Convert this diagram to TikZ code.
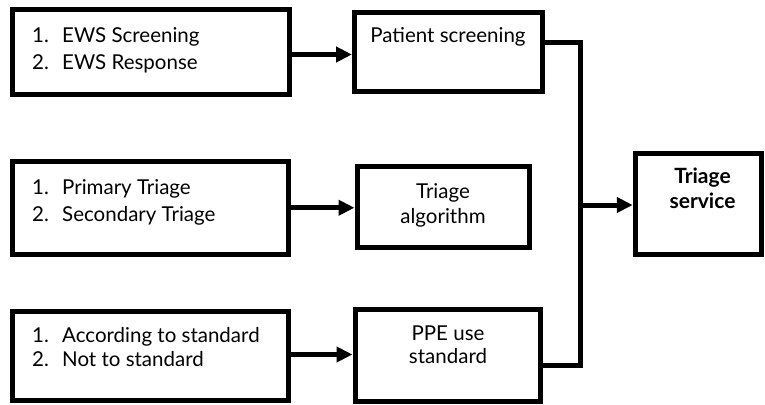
\documentclass[tikz,border=0pt]{standalone}
\usepackage{fontspec}
\setmainfont{Lato}
\usetikzlibrary{arrows.meta,calc}
\begin{document}
\begin{tikzpicture}[x=1pt,y=-1pt,
  box/.style={draw=black,line width=5pt,rectangle,inner sep=0pt,line join=miter},
  txt/.style={inner sep=0pt,font=\fontsize{20.5}{24}\selectfont},
  btxt/.style={inner sep=0pt,font=\fontsize{21}{24}\selectfont\bfseries},
  conn/.style={line width=5pt,line join=miter},
  arr/.style={line width=5pt,-{Triangle[length=16pt,width=15pt]}}]
\useasboundingbox (0,0) rectangle (765,404);
% boxes
\node[box,minimum width=277pt,minimum height=84pt] (A) at (150.5,52) {};
\node[box,minimum width=187.5pt,minimum height=78pt] (P) at (448.25,52) {};
\node[box,minimum width=276pt,minimum height=93.5pt] (B) at (150,207.75) {};
\node[box,minimum width=172.5pt,minimum height=81pt] (T) at (443.25,206.5) {};
\node[box,minimum width=126.5pt,minimum height=101.5pt] (S) at (698.5,203.75) {};
\node[box,minimum width=276pt,minimum height=89pt] (C) at (150,355.5) {};
\node[box,minimum width=185pt,minimum height=91.5pt] (Q) at (447.5,355.25) {};
% texts
\node[txt,anchor=base west] (a1) at (32,43) {\makebox[30pt][l]{1.}EWS Screening};
\node[txt,anchor=base west] (a2) at (32,69.5) {\makebox[30pt][l]{2.}EWS Response};
\node[txt,anchor=base west] (b1) at (32,194) {\makebox[30pt][l]{1.}Primary Triage};
\node[txt,anchor=base west] (b2) at (32,221) {\makebox[30pt][l]{2.}Secondary Triage};
\node[txt,anchor=base west] (c1) at (32,342) {\makebox[30pt][l]{1.}According to standard};
\node[txt,anchor=base west] (c2) at (32,366.5) {\makebox[30pt][l]{2.}Not to standard};
\node[txt,anchor=base] (p1) at (448,43) {Patient screening};
\node[txt,anchor=base] (t1) at (443,198) {Triage};
\node[txt,anchor=base] (t2) at (443,223) {algorithm};
\node[btxt,anchor=base] (s1) at (702.5,183) {Triage};
\node[btxt,anchor=base] (s2) at (702.5,208) {service};
\node[txt,anchor=base] (q1) at (448,340) {PPE use};
\node[txt,anchor=base] (q2) at (448,363) {standard};
% connectors
\coordinate (J) at (580,205);
\draw[arr] ([yshift=-2.5pt]A.east) -- ([yshift=-2.5pt]A.east -| P.west);
\draw[arr] (B.east) -- (B.east -| T.west);
\draw[arr] ([yshift=1pt]C.east) -- ([yshift=1pt]C.east -| Q.west);
\draw[conn] ([yshift=9.5pt]P.east) -| (J) |- ([yshift=-9.75pt]Q.east);
\draw[arr] (J) -- (J -| S.west);
\end{tikzpicture}
\end{document}
